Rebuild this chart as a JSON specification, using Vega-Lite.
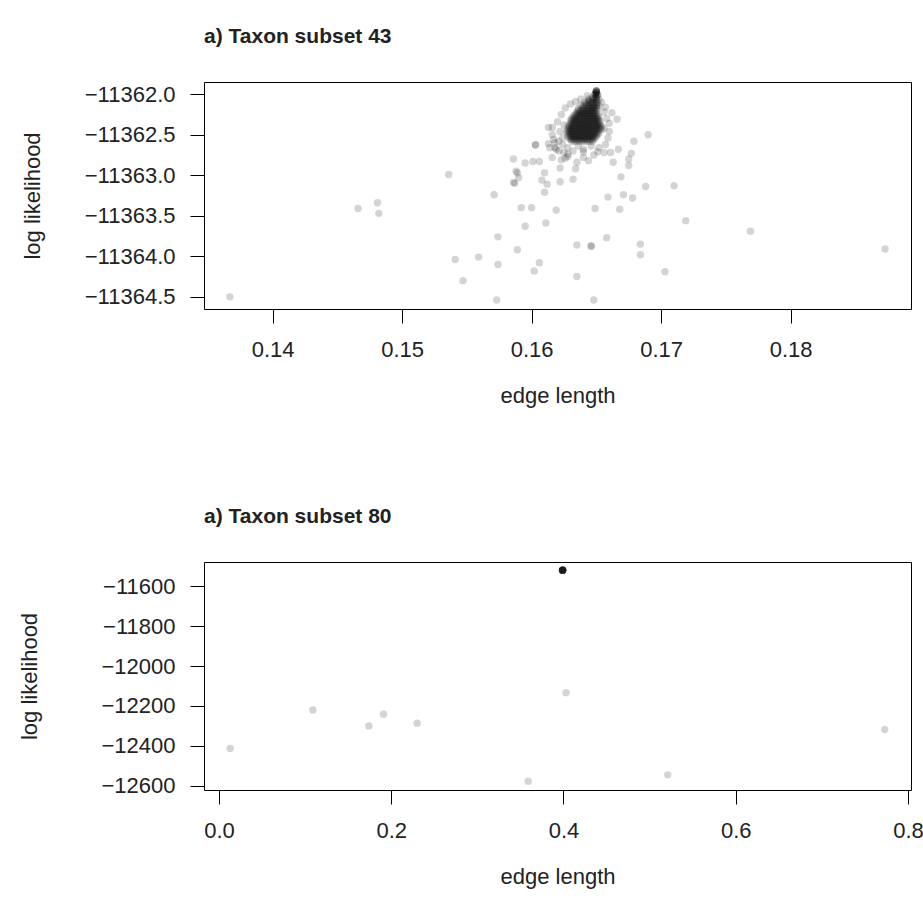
{
"$schema": "https://vega.github.io/schema/vega-lite/v6.json",
"padding": {"left": 18, "top": 25, "right": 5, "bottom": 5},
"background": "white",
"config": {
  "font": "Liberation Sans",
  "view": {"stroke": "#000", "strokeWidth": 1},
  "axis": {"domain": false, "grid": false, "tickColor": "#000", "tickSize": 14, "labelFontSize": 22, "labelColor": "#222", "titleFontSize": 22, "titleFontWeight": "normal", "titleColor": "#222", "labelFlush": false, "labelOverlap": false},
  "axisX": {"labelPadding": 16, "titlePadding": 25},
  "axisY": {"labelPadding": 15},
  "title": {"fontSize": 21, "fontWeight": "bold", "anchor": "start", "frame": "group", "color": "#222", "offset": 35}
},
"spacing": 98,
"vconcat": [
{
  "title": {"text": "a) Taxon subset 43"},
  "width": 707, "height": 227,
  "data": {"values": [
{"edge":0.1367,"ll":-11364.50},{"edge":0.1466,"ll":-11363.41},{"edge":0.1481,"ll":-11363.34},{"edge":0.1482,"ll":-11363.47},
{"edge":0.1536,"ll":-11362.99},{"edge":0.1571,"ll":-11363.24},{"edge":0.1541,"ll":-11364.04},{"edge":0.1547,"ll":-11364.30},
{"edge":0.1559,"ll":-11364.01},{"edge":0.1574,"ll":-11363.76},{"edge":0.1574,"ll":-11364.10},{"edge":0.1573,"ll":-11364.54},
{"edge":0.1589,"ll":-11363.92},{"edge":0.1592,"ll":-11363.40},{"edge":0.1600,"ll":-11363.40},{"edge":0.1595,"ll":-11363.63},
{"edge":0.1611,"ll":-11363.59},{"edge":0.1606,"ll":-11364.08},{"edge":0.1602,"ll":-11364.18},{"edge":0.1619,"ll":-11363.43},
{"edge":0.1635,"ll":-11363.86},{"edge":0.1646,"ll":-11363.87},{"edge":0.1646,"ll":-11363.88},{"edge":0.1635,"ll":-11364.25},
{"edge":0.1648,"ll":-11364.54},{"edge":0.1649,"ll":-11363.41},{"edge":0.1658,"ll":-11363.77},{"edge":0.1659,"ll":-11363.27},
{"edge":0.1671,"ll":-11363.24},{"edge":0.1668,"ll":-11363.42},{"edge":0.1678,"ll":-11363.28},{"edge":0.1684,"ll":-11363.85},
{"edge":0.1684,"ll":-11363.98},{"edge":0.1688,"ll":-11363.14},{"edge":0.1703,"ll":-11364.19},{"edge":0.1710,"ll":-11363.13},
{"edge":0.1719,"ll":-11363.56},{"edge":0.1769,"ll":-11363.69},{"edge":0.1873,"ll":-11363.91},{"edge":0.1690,"ll":-11362.50},
{"edge":0.1679,"ll":-11362.58},{"edge":0.1669,"ll":-11363.02},{"edge":0.1675,"ll":-11362.88},{"edge":0.1675,"ll":-11362.80},
{"edge":0.1677,"ll":-11362.73},{"edge":0.1667,"ll":-11362.68},{"edge":0.1663,"ll":-11362.84},{"edge":0.1661,"ll":-11362.72},
{"edge":0.1656,"ll":-11362.72},{"edge":0.1651,"ll":-11362.71},{"edge":0.1648,"ll":-11362.75},{"edge":0.1644,"ll":-11362.82},
{"edge":0.1640,"ll":-11362.71},{"edge":0.1640,"ll":-11362.78},{"edge":0.1635,"ll":-11362.84},{"edge":0.1634,"ll":-11362.92},
{"edge":0.1632,"ll":-11363.05},{"edge":0.1622,"ll":-11362.91},{"edge":0.1622,"ll":-11363.08},{"edge":0.1623,"ll":-11362.81},
{"edge":0.1626,"ll":-11362.79},{"edge":0.1628,"ll":-11362.77},{"edge":0.1616,"ll":-11362.78},{"edge":0.1612,"ll":-11363.11},
{"edge":0.1608,"ll":-11363.06},{"edge":0.1610,"ll":-11362.97},{"edge":0.1610,"ll":-11363.21},{"edge":0.1606,"ll":-11362.83},
{"edge":0.1601,"ll":-11362.83},{"edge":0.1595,"ll":-11362.85},{"edge":0.1586,"ll":-11362.80},{"edge":0.1588,"ll":-11362.95},
{"edge":0.1589,"ll":-11362.97},{"edge":0.1590,"ll":-11363.03},{"edge":0.1586,"ll":-11363.09},{"edge":0.1587,"ll":-11363.10},
{"edge":0.1603,"ll":-11362.62},{"edge":0.1603,"ll":-11362.63},{"edge":0.1613,"ll":-11362.61},{"edge":0.1614,"ll":-11362.66},
{"edge":0.1662,"ll":-11362.23},{"edge":0.1666,"ll":-11362.31},{"edge":0.1660,"ll":-11362.36},{"edge":0.1660,"ll":-11362.46},
{"edge":0.1659,"ll":-11362.54},{"edge":0.1616,"ll":-11362.41},
{"edge":0.1613,"ll":-11362.41},{"edge":0.1616,"ll":-11362.50},{"edge":0.1618,"ll":-11362.60},{"edge":0.1620,"ll":-11362.34},
{"edge":0.1623,"ll":-11362.25},{"edge":0.1626,"ll":-11362.17},{"edge":0.1630,"ll":-11362.12},{"edge":0.1634,"ll":-11362.09},
{"edge":0.1638,"ll":-11362.06},{"edge":0.1643,"ll":-11362.02},{"edge":0.1654,"ll":-11362.10},{"edge":0.1656,"ll":-11362.22},
{"edge":0.1658,"ll":-11362.30},{"edge":0.1656,"ll":-11362.42},{"edge":0.1657,"ll":-11362.16},{"edge":0.1657,"ll":-11362.62},
{"edge":0.1652,"ll":-11362.66},{"edge":0.1646,"ll":-11362.64},{"edge":0.1640,"ll":-11362.68},{"edge":0.1636,"ll":-11362.64},
{"edge":0.1632,"ll":-11362.70},{"edge":0.1628,"ll":-11362.66},{"edge":0.1624,"ll":-11362.62},{"edge":0.1621,"ll":-11362.70},
{"edge":0.1618,"ll":-11362.66},{"edge":0.1622,"ll":-11362.46},{"edge":0.1625,"ll":-11362.38},{"edge":0.1624,"ll":-11362.54},
{"edge":0.1617,"ll":-11362.56},{"edge":0.1621,"ll":-11362.58},{"edge":0.1619,"ll":-11362.68},{"edge":0.1625,"ll":-11362.72},
{"edge":0.1628,"ll":-11362.74},
{"edge":0.1650,"ll":-11361.96},{"edge":0.1650,"ll":-11361.96},{"edge":0.1650,"ll":-11361.96},{"edge":0.1650,"ll":-11361.96},
{"edge":0.1650,"ll":-11361.98},{"edge":0.1650,"ll":-11361.98},{"edge":0.1650,"ll":-11361.98},{"edge":0.1649,"ll":-11362.00},
{"edge":0.1649,"ll":-11362.00},{"edge":0.1649,"ll":-11362.00},{"edge":0.1651,"ll":-11362.01},{"edge":0.1651,"ll":-11362.01},
{"edge":0.1650,"ll":-11362.02},{"edge":0.1649,"ll":-11362.05},
{"edge":0.1647,"ll":-11362.04},{"edge":0.1650,"ll":-11362.04},{"edge":0.1644,"ll":-11362.08},{"edge":0.1647,"ll":-11362.08},
{"edge":0.1650,"ll":-11362.08},{"edge":0.1642,"ll":-11362.12},{"edge":0.1645,"ll":-11362.12},{"edge":0.1648,"ll":-11362.12},
{"edge":0.1650,"ll":-11362.12},{"edge":0.1640,"ll":-11362.16},{"edge":0.1644,"ll":-11362.16},{"edge":0.1646,"ll":-11362.16},
{"edge":0.1648,"ll":-11362.16},{"edge":0.1650,"ll":-11362.16},
{"edge":0.1644,"ll":-11362.06},{"edge":0.1646,"ll":-11362.06},{"edge":0.1648,"ll":-11362.06},{"edge":0.1650,"ll":-11362.06},{"edge":0.1652,"ll":-11362.06},
{"edge":0.1641,"ll":-11362.10},{"edge":0.1643,"ll":-11362.10},{"edge":0.1645,"ll":-11362.10},{"edge":0.1647,"ll":-11362.10},{"edge":0.1649,"ll":-11362.10},{"edge":0.1651,"ll":-11362.10},
{"edge":0.1638,"ll":-11362.14},{"edge":0.1640,"ll":-11362.14},{"edge":0.1642,"ll":-11362.14},{"edge":0.1644,"ll":-11362.14},{"edge":0.1646,"ll":-11362.14},{"edge":0.1648,"ll":-11362.14},{"edge":0.1650,"ll":-11362.14},{"edge":0.1652,"ll":-11362.14},
{"edge":0.1636,"ll":-11362.18},{"edge":0.1639,"ll":-11362.18},{"edge":0.1641,"ll":-11362.18},{"edge":0.1643,"ll":-11362.18},{"edge":0.1645,"ll":-11362.18},{"edge":0.1647,"ll":-11362.18},{"edge":0.1649,"ll":-11362.18},{"edge":0.1651,"ll":-11362.18},
{"edge":0.1636,"ll":-11362.20},{"edge":0.1638,"ll":-11362.20},{"edge":0.1640,"ll":-11362.20},{"edge":0.1642,"ll":-11362.20},{"edge":0.1644,"ll":-11362.20},{"edge":0.1646,"ll":-11362.20},{"edge":0.1648,"ll":-11362.20},{"edge":0.1650,"ll":-11362.20},
{"edge":0.1634,"ll":-11362.24},{"edge":0.1636,"ll":-11362.24},{"edge":0.1638,"ll":-11362.24},{"edge":0.1640,"ll":-11362.24},{"edge":0.1642,"ll":-11362.24},{"edge":0.1644,"ll":-11362.24},{"edge":0.1646,"ll":-11362.24},{"edge":0.1648,"ll":-11362.24},{"edge":0.1650,"ll":-11362.24},
{"edge":0.1632,"ll":-11362.28},{"edge":0.1634,"ll":-11362.28},{"edge":0.1636,"ll":-11362.28},{"edge":0.1638,"ll":-11362.28},{"edge":0.1640,"ll":-11362.28},{"edge":0.1642,"ll":-11362.28},{"edge":0.1644,"ll":-11362.28},{"edge":0.1646,"ll":-11362.28},{"edge":0.1648,"ll":-11362.28},{"edge":0.1650,"ll":-11362.28},{"edge":0.1652,"ll":-11362.28},
{"edge":0.1630,"ll":-11362.32},{"edge":0.1632,"ll":-11362.32},{"edge":0.1634,"ll":-11362.32},{"edge":0.1636,"ll":-11362.32},{"edge":0.1638,"ll":-11362.32},{"edge":0.1640,"ll":-11362.32},{"edge":0.1642,"ll":-11362.32},{"edge":0.1644,"ll":-11362.32},{"edge":0.1646,"ll":-11362.32},{"edge":0.1648,"ll":-11362.32},{"edge":0.1650,"ll":-11362.32},{"edge":0.1652,"ll":-11362.32},
{"edge":0.1630,"ll":-11362.36},{"edge":0.1632,"ll":-11362.36},{"edge":0.1634,"ll":-11362.36},{"edge":0.1636,"ll":-11362.36},{"edge":0.1638,"ll":-11362.36},{"edge":0.1640,"ll":-11362.36},{"edge":0.1642,"ll":-11362.36},{"edge":0.1644,"ll":-11362.36},{"edge":0.1646,"ll":-11362.36},{"edge":0.1648,"ll":-11362.36},{"edge":0.1650,"ll":-11362.36},{"edge":0.1652,"ll":-11362.36},
{"edge":0.1628,"ll":-11362.40},{"edge":0.1630,"ll":-11362.40},{"edge":0.1632,"ll":-11362.40},{"edge":0.1634,"ll":-11362.40},{"edge":0.1636,"ll":-11362.40},{"edge":0.1638,"ll":-11362.40},{"edge":0.1640,"ll":-11362.40},{"edge":0.1642,"ll":-11362.40},{"edge":0.1644,"ll":-11362.40},{"edge":0.1646,"ll":-11362.40},{"edge":0.1648,"ll":-11362.40},{"edge":0.1650,"ll":-11362.40},{"edge":0.1652,"ll":-11362.40},{"edge":0.1654,"ll":-11362.40},
{"edge":0.1628,"ll":-11362.44},{"edge":0.1630,"ll":-11362.44},{"edge":0.1632,"ll":-11362.44},{"edge":0.1634,"ll":-11362.44},{"edge":0.1636,"ll":-11362.44},{"edge":0.1638,"ll":-11362.44},{"edge":0.1640,"ll":-11362.44},{"edge":0.1642,"ll":-11362.44},{"edge":0.1644,"ll":-11362.44},{"edge":0.1646,"ll":-11362.44},{"edge":0.1648,"ll":-11362.44},{"edge":0.1650,"ll":-11362.44},{"edge":0.1652,"ll":-11362.44},{"edge":0.1654,"ll":-11362.44},
{"edge":0.1628,"ll":-11362.48},{"edge":0.1630,"ll":-11362.48},{"edge":0.1632,"ll":-11362.48},{"edge":0.1634,"ll":-11362.48},{"edge":0.1636,"ll":-11362.48},{"edge":0.1638,"ll":-11362.48},{"edge":0.1640,"ll":-11362.48},{"edge":0.1642,"ll":-11362.48},{"edge":0.1644,"ll":-11362.48},{"edge":0.1646,"ll":-11362.48},{"edge":0.1648,"ll":-11362.48},{"edge":0.1650,"ll":-11362.48},{"edge":0.1652,"ll":-11362.48},
{"edge":0.1628,"ll":-11362.52},{"edge":0.1630,"ll":-11362.52},{"edge":0.1632,"ll":-11362.52},{"edge":0.1634,"ll":-11362.52},{"edge":0.1636,"ll":-11362.52},{"edge":0.1638,"ll":-11362.52},{"edge":0.1640,"ll":-11362.52},{"edge":0.1642,"ll":-11362.52},{"edge":0.1644,"ll":-11362.52},{"edge":0.1646,"ll":-11362.52},{"edge":0.1648,"ll":-11362.52},{"edge":0.1650,"ll":-11362.52},
{"edge":0.1630,"ll":-11362.56},{"edge":0.1632,"ll":-11362.56},{"edge":0.1634,"ll":-11362.56},{"edge":0.1636,"ll":-11362.56},{"edge":0.1638,"ll":-11362.56},{"edge":0.1640,"ll":-11362.56},{"edge":0.1642,"ll":-11362.56},{"edge":0.1644,"ll":-11362.56},{"edge":0.1646,"ll":-11362.56},{"edge":0.1648,"ll":-11362.56},
{"edge":0.1635,"ll":-11362.22},{"edge":0.1637,"ll":-11362.22},{"edge":0.1639,"ll":-11362.22},{"edge":0.1641,"ll":-11362.22},{"edge":0.1643,"ll":-11362.22},{"edge":0.1645,"ll":-11362.22},{"edge":0.1647,"ll":-11362.22},{"edge":0.1649,"ll":-11362.22},
{"edge":0.1633,"ll":-11362.26},{"edge":0.1635,"ll":-11362.26},{"edge":0.1637,"ll":-11362.26},{"edge":0.1639,"ll":-11362.26},{"edge":0.1641,"ll":-11362.26},{"edge":0.1643,"ll":-11362.26},{"edge":0.1645,"ll":-11362.26},{"edge":0.1647,"ll":-11362.26},{"edge":0.1649,"ll":-11362.26},{"edge":0.1651,"ll":-11362.26},
{"edge":0.1631,"ll":-11362.30},{"edge":0.1633,"ll":-11362.30},{"edge":0.1635,"ll":-11362.30},{"edge":0.1637,"ll":-11362.30},{"edge":0.1639,"ll":-11362.30},{"edge":0.1641,"ll":-11362.30},{"edge":0.1643,"ll":-11362.30},{"edge":0.1645,"ll":-11362.30},{"edge":0.1647,"ll":-11362.30},{"edge":0.1649,"ll":-11362.30},{"edge":0.1651,"ll":-11362.30},
{"edge":0.1631,"ll":-11362.34},{"edge":0.1633,"ll":-11362.34},{"edge":0.1635,"ll":-11362.34},{"edge":0.1637,"ll":-11362.34},{"edge":0.1639,"ll":-11362.34},{"edge":0.1641,"ll":-11362.34},{"edge":0.1643,"ll":-11362.34},{"edge":0.1645,"ll":-11362.34},{"edge":0.1647,"ll":-11362.34},{"edge":0.1649,"ll":-11362.34},{"edge":0.1651,"ll":-11362.34},{"edge":0.1653,"ll":-11362.34},
{"edge":0.1629,"ll":-11362.38},{"edge":0.1631,"ll":-11362.38},{"edge":0.1633,"ll":-11362.38},{"edge":0.1635,"ll":-11362.38},{"edge":0.1637,"ll":-11362.38},{"edge":0.1639,"ll":-11362.38},{"edge":0.1641,"ll":-11362.38},{"edge":0.1643,"ll":-11362.38},{"edge":0.1645,"ll":-11362.38},{"edge":0.1647,"ll":-11362.38},{"edge":0.1649,"ll":-11362.38},{"edge":0.1651,"ll":-11362.38},{"edge":0.1653,"ll":-11362.38},
{"edge":0.1629,"ll":-11362.42},{"edge":0.1631,"ll":-11362.42},{"edge":0.1633,"ll":-11362.42},{"edge":0.1635,"ll":-11362.42},{"edge":0.1637,"ll":-11362.42},{"edge":0.1639,"ll":-11362.42},{"edge":0.1641,"ll":-11362.42},{"edge":0.1643,"ll":-11362.42},{"edge":0.1645,"ll":-11362.42},{"edge":0.1647,"ll":-11362.42},{"edge":0.1649,"ll":-11362.42},{"edge":0.1651,"ll":-11362.42},{"edge":0.1653,"ll":-11362.42},
{"edge":0.1627,"ll":-11362.46},{"edge":0.1629,"ll":-11362.46},{"edge":0.1631,"ll":-11362.46},{"edge":0.1633,"ll":-11362.46},{"edge":0.1635,"ll":-11362.46},{"edge":0.1637,"ll":-11362.46},{"edge":0.1639,"ll":-11362.46},{"edge":0.1641,"ll":-11362.46},{"edge":0.1643,"ll":-11362.46},{"edge":0.1645,"ll":-11362.46},{"edge":0.1647,"ll":-11362.46},{"edge":0.1649,"ll":-11362.46},{"edge":0.1651,"ll":-11362.46},
{"edge":0.1629,"ll":-11362.50},{"edge":0.1631,"ll":-11362.50},{"edge":0.1633,"ll":-11362.50},{"edge":0.1635,"ll":-11362.50},{"edge":0.1637,"ll":-11362.50},{"edge":0.1639,"ll":-11362.50},{"edge":0.1641,"ll":-11362.50},{"edge":0.1643,"ll":-11362.50},{"edge":0.1645,"ll":-11362.50},{"edge":0.1647,"ll":-11362.50},{"edge":0.1649,"ll":-11362.50},{"edge":0.1651,"ll":-11362.50},
{"edge":0.1629,"ll":-11362.54},{"edge":0.1631,"ll":-11362.54},{"edge":0.1633,"ll":-11362.54},{"edge":0.1635,"ll":-11362.54},{"edge":0.1637,"ll":-11362.54},{"edge":0.1639,"ll":-11362.54},{"edge":0.1641,"ll":-11362.54},{"edge":0.1643,"ll":-11362.54},{"edge":0.1645,"ll":-11362.54},{"edge":0.1647,"ll":-11362.54},{"edge":0.1649,"ll":-11362.54},
{"edge":0.1631,"ll":-11362.58},{"edge":0.1633,"ll":-11362.58},{"edge":0.1635,"ll":-11362.58},{"edge":0.1637,"ll":-11362.58},{"edge":0.1639,"ll":-11362.58},{"edge":0.1641,"ll":-11362.58},{"edge":0.1643,"ll":-11362.58},{"edge":0.1645,"ll":-11362.58},{"edge":0.1647,"ll":-11362.58}
  ]},
  "mark": {"type": "circle", "size": 55, "color": "#000", "opacity": 0.17},
  "encoding": {
    "x": {"field": "edge", "type": "quantitative", "scale": {"domain": [0.1347, 0.1893], "nice": false, "zero": false},
          "axis": {"values": [0.14, 0.15, 0.16, 0.17, 0.18], "format": ".2f", "title": "edge length"}},
    "y": {"field": "ll", "type": "quantitative", "scale": {"domain": [-11364.65, -11361.85], "nice": false, "zero": false},
          "axis": {"values": [-11362.0, -11362.5, -11363.0, -11363.5, -11364.0, -11364.5], "format": ".1f", "title": "log likelihood", "titlePadding": 40}}
  }
},
{
  "title": {"text": "a) Taxon subset 80"},
  "width": 707, "height": 228,
  "data": {"values": [
{"edge":0.013,"ll":-12413},{"edge":0.109,"ll":-12220},{"edge":0.174,"ll":-12300},{"edge":0.191,"ll":-12242},
{"edge":0.230,"ll":-12287},{"edge":0.359,"ll":-12578},{"edge":0.403,"ll":-12133},{"edge":0.521,"ll":-12546},
{"edge":0.773,"ll":-12318},
{"edge":0.399,"ll":-11518},{"edge":0.399,"ll":-11518},{"edge":0.399,"ll":-11518},{"edge":0.399,"ll":-11518},
{"edge":0.399,"ll":-11518},{"edge":0.399,"ll":-11518},{"edge":0.399,"ll":-11518},{"edge":0.399,"ll":-11518},
{"edge":0.399,"ll":-11518},{"edge":0.399,"ll":-11518},{"edge":0.399,"ll":-11518},{"edge":0.399,"ll":-11518}
  ]},
  "mark": {"type": "circle", "size": 55, "color": "#000", "opacity": 0.17},
  "encoding": {
    "x": {"field": "edge", "type": "quantitative", "scale": {"domain": [-0.0174, 0.8035], "nice": false, "zero": false},
          "axis": {"values": [0, 0.2, 0.4, 0.6, 0.8], "format": ".1f", "title": "edge length"}},
    "y": {"field": "ll", "type": "quantitative", "scale": {"domain": [-12622, -11477], "nice": false, "zero": false},
          "axis": {"values": [-11600, -11800, -12000, -12200, -12400, -12600], "format": "d", "title": "log likelihood", "titlePadding": 59}}
  }
}
]
}
